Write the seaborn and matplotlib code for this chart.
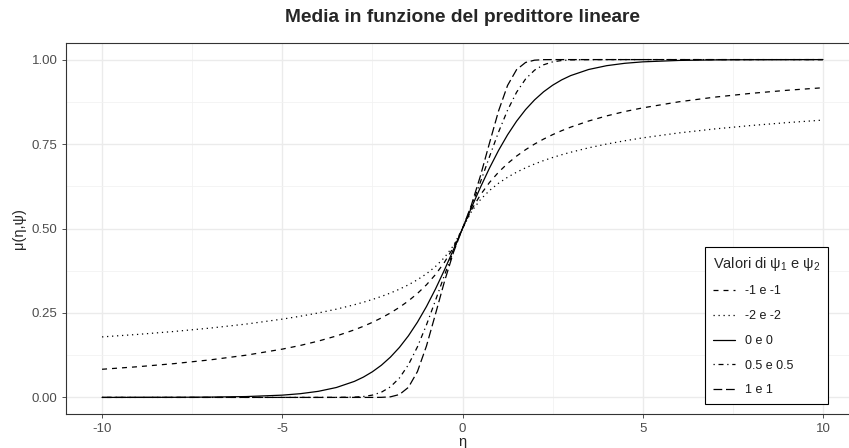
import matplotlib
matplotlib.use("Agg")
import matplotlib.pyplot as plt
import seaborn as sns
import pandas as pd
import numpy as np

# eta grid
eta = [-10, -9, -8, -7, -6, -5, -4.5, -4, -3.5,
       -3, -2.75, -2.5, -2.25, -2, -1.75, -1.5, -1.25, -1, -0.75, -0.5, -0.25,
       0,
       0.25, 0.5, 0.75, 1, 1.25, 1.5, 1.75, 2, 2.25, 2.5, 2.75, 3,
       3.5, 4, 4.5, 5, 6, 7, 8, 9, 10]

mu_m1 = [0.0833, 0.0909, 0.1000, 0.1111, 0.1250, 0.1429, 0.1538, 0.1667, 0.1818,
         0.2000, 0.2105, 0.2222, 0.2353, 0.2500, 0.2667, 0.2857, 0.3077, 0.3333, 0.3636, 0.4000, 0.4444,
         0.5,
         0.5556, 0.6000, 0.6364, 0.6667, 0.6923, 0.7143, 0.7333, 0.7500, 0.7647, 0.7778, 0.7895, 0.8000,
         0.8182, 0.8333, 0.8462, 0.8571, 0.8750, 0.8889, 0.9000, 0.9091, 0.9167]

mu_m2 = [0.1791, 0.1866, 0.1952, 0.2052, 0.2171, 0.2317, 0.2403, 0.2500, 0.2612,
         0.2743, 0.2817, 0.2899, 0.2989, 0.3090, 0.3204, 0.3333, 0.3483, 0.3660, 0.3874, 0.4142, 0.4495,
         0.5,
         0.5505, 0.5858, 0.6126, 0.6340, 0.6517, 0.6667, 0.6796, 0.6910, 0.7011, 0.7101, 0.7183, 0.7257,
         0.7388, 0.7500, 0.7597, 0.7683, 0.7829, 0.7948, 0.8048, 0.8134, 0.8209]

mu_0 = [0.0000, 0.0001, 0.0003, 0.0009, 0.0025, 0.0067, 0.0110, 0.0180, 0.0293,
        0.0474, 0.0601, 0.0759, 0.0953, 0.1192, 0.1480, 0.1824, 0.2227, 0.2689, 0.3208, 0.3775, 0.4378,
        0.5,
        0.5622, 0.6225, 0.6792, 0.7311, 0.7773, 0.8176, 0.8520, 0.8808, 0.9047, 0.9241, 0.9399, 0.9526,
        0.9707, 0.9820, 0.9890, 0.9933, 0.9975, 0.9991, 0.9997, 0.9999, 1.0000]

mu_05 = [0.0, 0.0, 0.0, 0.0, 0.0, 0.0, 0.0, 0.0, 0.0001,
         0.0009, 0.0027, 0.0068, 0.0154, 0.0312, 0.0574, 0.0967, 0.1498, 0.2146, 0.2870, 0.3617, 0.4338,
         0.5,
         0.5662, 0.6383, 0.7130, 0.7854, 0.8502, 0.9033, 0.9426, 0.9688, 0.9846, 0.9932, 0.9973, 0.9991,
         0.9999, 1.0, 1.0, 1.0, 1.0, 1.0, 1.0, 1.0, 1.0]

mu_1 = [0.0, 0.0, 0.0, 0.0, 0.0, 0.0, 0.0, 0.0, 0.0,
        0.0, 0.0, 0.0, 0.0002, 0.0017, 0.0085, 0.0298, 0.0765, 0.1521, 0.2466, 0.3433, 0.4295,
        0.5,
        0.5705, 0.6567, 0.7534, 0.8479, 0.9235, 0.9702, 0.9915, 0.9983, 0.9998, 1.0, 1.0, 1.0,
        1.0, 1.0, 1.0, 1.0, 1.0, 1.0, 1.0, 1.0, 1.0]

labels = ["-1 e -1", "-2 e -2", "0 e 0", "0.5 e 0.5", "1 e 1"]
series = [mu_m1, mu_m2, mu_0, mu_05, mu_1]
styles = [(0, (4, 4)), (0, (1, 3)), "solid", (0, (1, 3, 4, 3)), (0, (7, 3))]

sns.set_theme(style="white")
plt.rcParams["font.family"] = ["Liberation Sans", "DejaVu Sans"]
plt.rcParams["mathtext.default"] = "regular"

W, H = 849, 448
fig = plt.figure(figsize=(W / 100, H / 100), dpi=100)
left, right, top, bottom = 66, 859, 42.7, 414.3
ax = fig.add_axes([left / W, (H - bottom) / H, (right - left) / W, (bottom - top) / H])

for lab, vals, ls in zip(labels, series, styles):
    df = pd.DataFrame({"eta": eta, "mu": vals})
    sns.lineplot(data=df, x="eta", y="mu", ax=ax, color="black", lw=0.9,
                 linestyle=ls, label=lab, sort=True)

ax.set_xlim(-11, 11)
ax.set_ylim(-0.05, 1.05)
ax.set_xticks([-10, -5, 0, 5, 10])
ax.set_xticklabels(["-10", "-5", "0", "5", "10"])
ax.set_yticks([0, 0.25, 0.5, 0.75, 1.0])
ax.set_yticklabels(["0.00", "0.25", "0.50", "0.75", "1.00"])
ax.set_xticks([-7.5, -2.5, 2.5, 7.5], minor=True)
ax.set_yticks([0.125, 0.375, 0.625, 0.875], minor=True)
ax.grid(True, which="major", color="#EBEBEB", lw=1.0, zorder=0)
ax.grid(True, which="minor", color="#F2F2F2", lw=0.6, zorder=0)
ax.set_axisbelow(True)
ax.tick_params(which="major", length=3, width=0.6, color="#333333",
               labelsize=9.5, labelcolor="#4D4D4D", pad=3, bottom=True, left=True)
ax.tick_params(which="minor", length=0)
for s in ax.spines.values():
    s.set_color("#333333")
    s.set_linewidth(0.8)

ax.set_xlabel("η", fontsize=10.5, labelpad=0)
ax.set_ylabel("μ(η,ψ)", fontsize=10.5, labelpad=4)
fig.text((left + right) / 2 / W, 1 - 18 / H, "Media in funzione del predittore lineare",
         ha="center", va="center", fontsize=13.8, fontweight="bold")

leg = ax.legend(title=r"Valori di $\psi_1$ e $\psi_2$", loc="lower left",
                bbox_to_anchor=(0.806, 0.028), borderaxespad=0, fontsize=9,
                title_fontsize=10.5, frameon=True, fancybox=False, edgecolor="black",
                framealpha=1, handlelength=1.8, handletextpad=0.8, labelspacing=1.02,
                borderpad=0.6)
leg.get_frame().set_linewidth(0.8)
leg._legend_box.align = "left"
for t in leg.get_texts():
    t.set_color("#1a1a1a")

fig.savefig("out.png", dpi=100)
